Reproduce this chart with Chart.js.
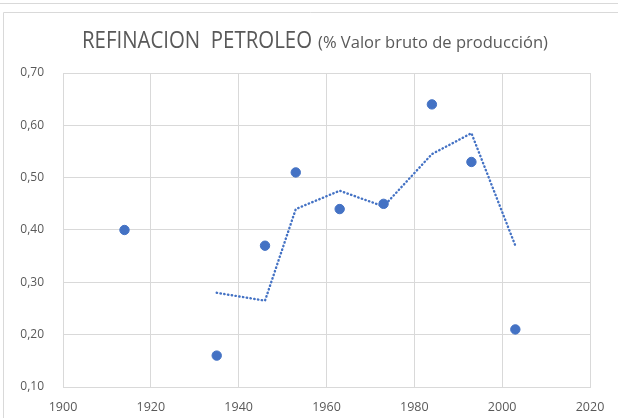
<!DOCTYPE html>
<html>
<head>
<meta charset="utf-8">
<script src="https://cdn.jsdelivr.net/npm/chart.js@4"></script>
<style>
  body { margin: 0; background: #fff; }
  #wrap { width: 618px; height: 418px; position: relative; }
</style>
</head>
<body>
<div id="wrap"><canvas id="chart" width="618" height="418"></canvas></div>
<script>
// observed values
const years = [1914, 1935, 1946, 1953, 1963, 1973, 1984, 1993, 2003];
const shares = [0.40, 0.16, 0.37, 0.51, 0.44, 0.45, 0.64, 0.53, 0.21];

// dotted trend line (2-period moving average as drawn)
const trendYears = [1935, 1946, 1953, 1963, 1973, 1984, 1993, 2003];
const trendValues = [0.28, 0.265, 0.44, 0.475, 0.445, 0.545, 0.585, 0.37];

const xTicks = [1900, 1920, 1940, 1960, 1980, 2000, 2020];
const yTicks = [0.10, 0.20, 0.30, 0.40, 0.50, 0.60, 0.70];

const FONT = "'Open Sans', 'Noto Sans', sans-serif";
const BLUE = '#4472C4';

// draws text squeezed to a given width (the original uses a narrow font)
function narrowText(c, txt, x, y, size, width) {
  c.font = size + 'px ' + FONT;
  const w = c.measureText(txt).width;
  c.save();
  c.translate(x, y);
  c.scale(width / w, 1);
  c.fillText(txt, 0, 0);
  c.restore();
}

const frame = {
  id: 'frame',
  beforeDraw(chart) {
    const c = chart.ctx;
    c.save();
    c.strokeStyle = '#d9d9d9';
    c.lineWidth = 1;
    c.beginPath();
    c.moveTo(0, 3.5); c.lineTo(618, 3.5);
    c.moveTo(3.5, 418); c.lineTo(3.5, 12.5); c.lineTo(618, 12.5);
    c.stroke();
    c.restore();
  },
  afterDraw(chart) {
    const c = chart.ctx;
    c.save();
    c.fillStyle = '#595959';
    c.textBaseline = 'alphabetic';
    narrowText(c, 'REFINACION  PETROLEO', 82, 48, 23.5, 230);
    narrowText(c, '(% Valor bruto de producción)', 318, 48, 16, 230);
    c.restore();
  }
};

new Chart(document.getElementById('chart'), {
  type: 'scatter',
  data: {
    datasets: [{
      label: 'Valor',
      data: years.map((y, i) => ({ x: y, y: shares[i] })),
      backgroundColor: BLUE,
      borderColor: BLUE,
      pointRadius: 4.7,
      order: 1
    }, {
      label: 'Tendencia',
      data: trendYears.map((y, i) => ({ x: y, y: trendValues[i] })),
      showLine: true,
      borderColor: BLUE,
      borderWidth: 2.4,
      borderDash: [0.4, 3.4],
      borderCapStyle: 'round',
      pointRadius: 0,
      tension: 0,
      order: 2
    }]
  },
  options: {
    responsive: false,
    animation: false,
    layout: { padding: { left: 0, right: 28, top: 73, bottom: 0 } },
    plugins: { legend: { display: false }, tooltip: { enabled: false } },
    scales: {
      x: {
        type: 'linear',
        min: xTicks[0], max: xTicks[xTicks.length - 1],
        afterBuildTicks: s => { s.ticks = xTicks.map(v => ({ value: v })); },
        afterFit: s => { s.height = 31; },
        grid: { color: '#d9d9d9', drawTicks: false },
        border: { color: '#d9d9d9' },
        ticks: { color: '#595959', font: { family: FONT, size: 12.5 }, padding: 13,
                 maxRotation: 0, callback: v => String(v) }
      },
      y: {
        min: yTicks[0], max: yTicks[yTicks.length - 1],
        afterBuildTicks: s => { s.ticks = yTicks.map(v => ({ value: v })); },
        afterFit: s => { s.width = 63; },
        grid: { color: '#d9d9d9', drawTicks: false },
        border: { color: '#d9d9d9' },
        ticks: { color: '#595959', font: { family: FONT, size: 12 }, padding: 19,
                 callback: v => v.toFixed(2).replace('.', ',') }
      }
    }
  },
  plugins: [frame]
});
</script>
</body>
</html>
